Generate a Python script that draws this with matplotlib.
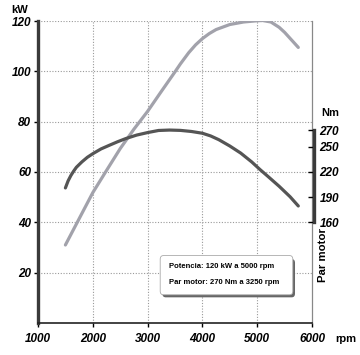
import matplotlib.pyplot as plt
from matplotlib.patches import FancyBboxPatch

# curvas del motor
rpm_pot = [1500, 1750, 2000, 2250, 2500, 2750, 3000, 3250, 3500, 3600, 3750, 3875, 4000,
           4125, 4250, 4500, 4750, 5000, 5100, 5250, 5400, 5500, 5600, 5750]
potencia = [31, 41.4, 51.8, 60.6, 69.3, 77, 84.1, 92, 99.8, 103, 107.4, 110.5, 113,
            115, 116.6, 118.6, 119.6, 120.1, 120.2, 119.6, 117.5, 115.5, 113.1, 109.5]

rpm_par = [1500, 1550, 1600, 1650, 1700, 1800, 1900, 2000, 2150, 2300, 2450, 2600, 2800,
           3000, 3200, 3400, 3600, 3800, 4000, 4150, 4300, 4500, 4700, 4900, 5050, 5200,
           5400, 5600, 5750]
par = [201, 209.5, 215.8, 221, 225.6, 232, 237.5, 241.8, 247.5, 251.8, 256, 259.8, 264,
       267, 269.5, 270, 269.6, 268.3, 266.2, 263, 258.5, 251, 242.5, 232, 223, 214.5,
       203, 190.5, 179.5]

x_ticks = [1000, 2000, 3000, 4000, 5000, 6000]
kw_ticks = [20, 40, 60, 80, 100, 120]
nm_ticks = [160, 190, 220, 250, 270]
textos = ["Potencia: 120 kW a 5000 rpm", "Par motor: 270 Nm a 3250 rpm"]

plt.rcParams['font.family'] = ['Liberation Sans', 'DejaVu Sans']

fig = plt.figure(figsize=(3.6, 3.55), dpi=100)
ax = fig.add_axes([38/360, 1-323/355, 274/360, 302/355])
ax.set_xlim(1000, 6000)
ax.set_ylim(0, 120)

# rejilla punteada
for xv in x_ticks[1:-1]:
    ax.axvline(xv, color='#9a9a9a', lw=0.8, ls=(0, (1, 1.5)), zorder=0)
for yv in kw_ticks:
    ax.axhline(yv, color='#9a9a9a', lw=0.8, ls=(0, (1, 1.5)), zorder=0)

ax.plot(rpm_pot, potencia, color='#a2a2ab', lw=2.3, solid_capstyle='round',
        solid_joinstyle='round', zorder=3)

ax2 = ax.twinx()
ax2.set_ylim(40, 400)
ax2.plot(rpm_par, par, color='#555555', lw=2.3, solid_capstyle='round',
         solid_joinstyle='round', zorder=3)

ax.spines['top'].set_visible(False)
ax2.spines['top'].set_visible(False)
ax2.spines['left'].set_visible(False)
ax2.spines['bottom'].set_visible(False)
ax.spines['right'].set_color('#888888')
ax.spines['right'].set_linewidth(0.9)
ax.spines['left'].set_linewidth(2.4)
ax.spines['left'].set_color('#3a3a3a')
ax.spines['bottom'].set_linewidth(1.2)
ax.spines['bottom'].set_color('#222222')
ax2.spines['right'].set_bounds(160, 270)
ax2.spines['right'].set_linewidth(2.4)
ax2.spines['right'].set_color('#3a3a3a')
ax2.spines['right'].set_position(('outward', 1.5))

tfont = dict(fontsize=8.5, fontweight='bold', fontstyle='italic')
ax.set_xticks(x_ticks)
ax.set_xticklabels([str(v) for v in x_ticks], **tfont)
ax.set_yticks(kw_ticks)
ax.set_yticklabels([str(v) for v in kw_ticks], **tfont)
ax.tick_params(axis='x', length=3, width=1, pad=4)
ax.tick_params(axis='y', length=3, width=1, pad=2)
ax2.set_yticks(nm_ticks)
ax2.set_yticklabels([str(v) for v in nm_ticks], **tfont)
ax2.tick_params(axis='y', direction='in', length=4, width=1, pad=4)

fig.text(20/360, 1-10/355, 'kW', ha='center', va='center', fontsize=8, fontweight='bold')
fig.text(330/360, 1-113/355, 'Nm', ha='center', va='center', fontsize=8, fontweight='bold')
fig.text(346/360, 1-339/355, 'rpm', ha='center', va='center', fontsize=8, fontweight='bold')
fig.text(323/360, 1-255/355, 'Par motor', ha='center', va='center', rotation=90,
         fontsize=8.2, fontweight='bold')

# recuadro con sombra
sombra = FancyBboxPatch((3270, 10.2), 2420, 15.2, boxstyle='round,pad=0,rounding_size=60',
                        mutation_aspect=1/40, fc='#666666', ec='none', zorder=4)
ax.add_patch(sombra)
caja = FancyBboxPatch((3230, 11.2), 2420, 15.6, boxstyle='round,pad=0,rounding_size=60',
                      mutation_aspect=1/40, fc='white', ec='#aaaaaa', lw=0.6, zorder=5)
ax.add_patch(caja)
ax.text(3390, 22.4, textos[0], fontsize=5.5, fontweight='bold', va='center', zorder=6)
ax.text(3390, 16.0, textos[1], fontsize=5.5, fontweight='bold', va='center', zorder=6)

fig.savefig('out.png', dpi=100)
